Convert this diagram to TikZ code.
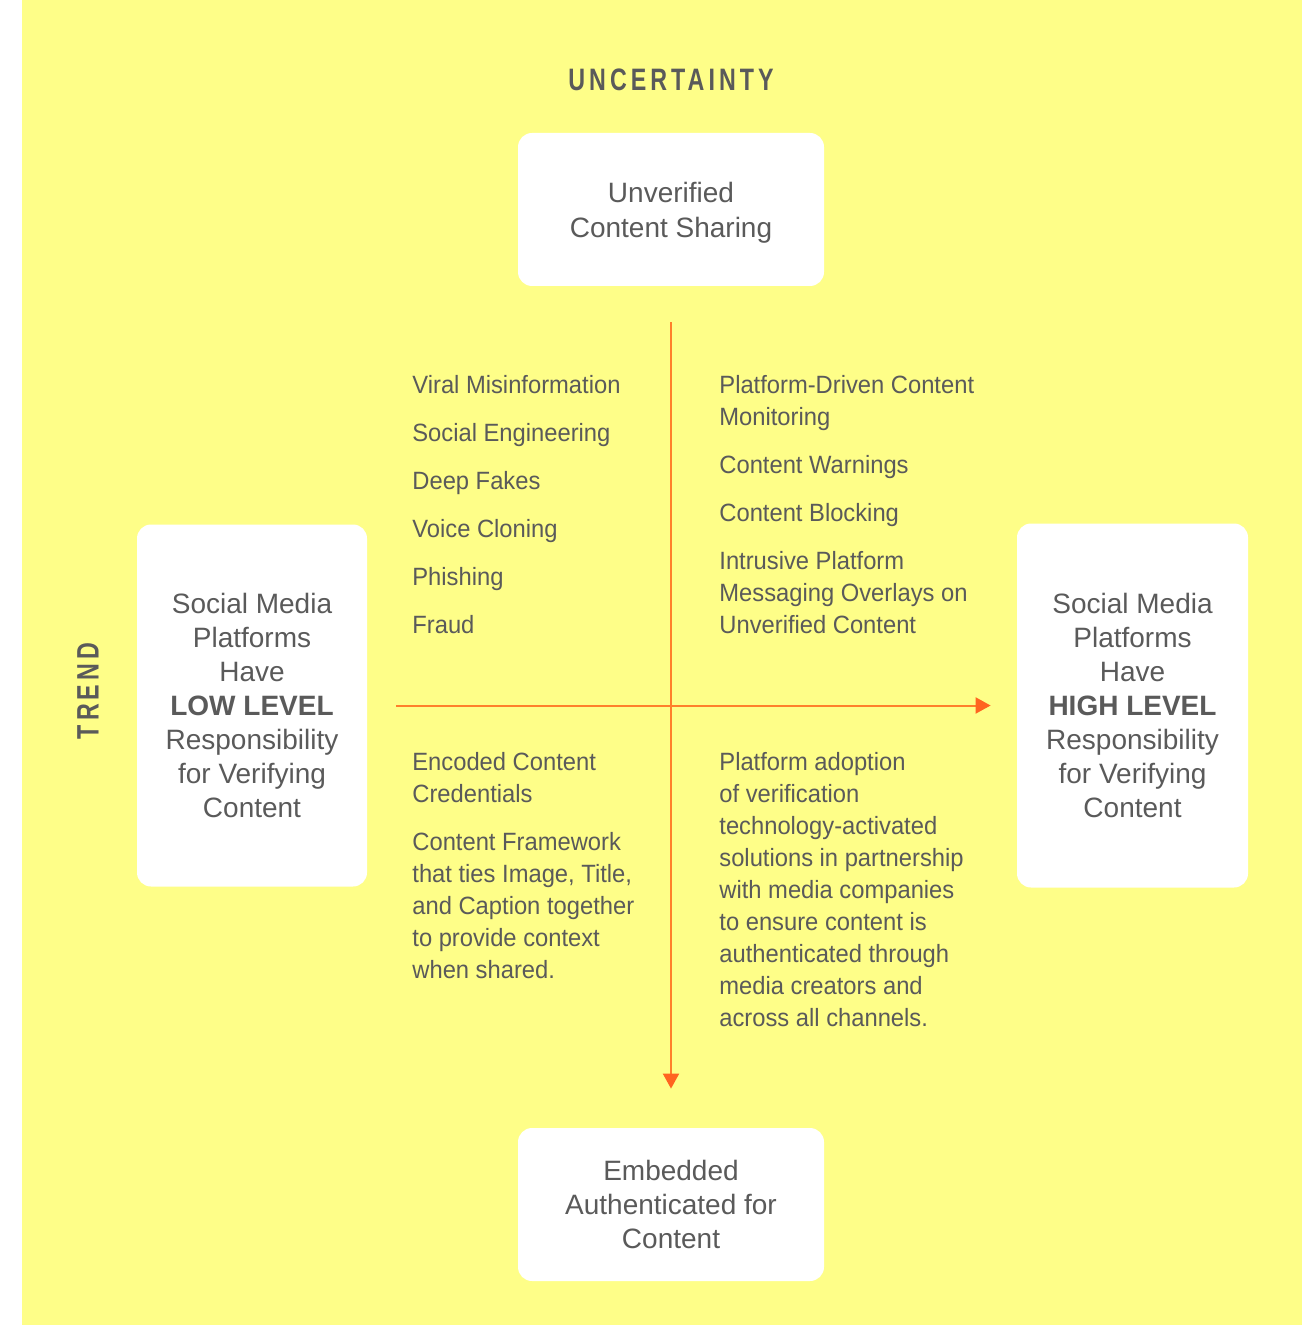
\documentclass[tikz,border=0pt]{standalone}
\usepackage{fontspec}
\setmainfont{Liberation Sans}
\newfontfamily\itemfam[FakeStretch=0.95]{Liberation Sans}
\newfontfamily\headfam[FakeStretch=0.75,LetterSpace=13]{Liberation Sans}
\usetikzlibrary{arrows.meta}
\usetikzlibrary{positioning}

\definecolor{bgyellow}{RGB}{254,254,136}
\definecolor{txtgray}{RGB}{90,90,90}
\definecolor{axisorange}{RGB}{255,127,42}
\definecolor{tiporange}{RGB}{255,100,32}

\begin{document}
\begin{tikzpicture}[x=0.5pt,y=-0.5pt,
    card/.style={fill=white, rounded corners=7pt, align=center, inner sep=0pt,
      text=txtgray, font=\fontsize{14}{17}\selectfont},
    items/.style={anchor=north west, inner sep=0pt, align=left,
      text=txtgray, font=\itemfam\fontsize{12.5}{16}\selectfont},
    heading/.style={text=txtgray, font=\headfam\bfseries\fontsize{15.5}{17}\selectfont},
    axis/.style={draw=axisorange, line width=1pt,
      -{Triangle[length=7.5pt,width=8pt,color=tiporange]}}]

        \useasboundingbox (0,0) rectangle (1302,1325);
        \fill[bgyellow] (22,0) rectangle (1302,1325);

        \node[heading] (unc) at (671,80) {UNCERTAINTY};
        \node[heading, rotate=90] (trend) at (88,691) {TREND};

        \node[card, minimum width=153pt, minimum height=76.5pt,
          font=\fontsize{14}{17.5}\selectfont] (top) at (671,209.5)
          {\rule{0pt}{13.2pt}Unverified\\Content Sharing};
        \node[card, minimum width=153pt, minimum height=76.5pt] (bottom) at (671,1204.5)
          {Embedded\\Authenticated for\\Content};
        \node[card, minimum width=115pt, minimum height=181pt] (low) at (252,705.5)
          {Social Media\\Platforms\\Have\\\textbf{LOW LEVEL}\\Responsibility\\for Verifying\\Content};
        \node[card, minimum width=115.5pt, minimum height=182pt] (high) at (1132.5,705.5)
          {Social Media\\Platforms\\Have\\\textbf{HIGH LEVEL}\\Responsibility\\for Verifying\\Content};

        \node[items] (threats) at (412,375)
          {Viral Misinformation\\[8pt]Social Engineering\\[8pt]Deep Fakes\\[8pt]Voice Cloning\\[8pt]Phishing\\[8pt]Fraud};
        \node[items] (policing) at (719,375)
          {Platform-Driven Content\\Monitoring\\[8pt]Content Warnings\\[8pt]Content Blocking\\[8pt]Intrusive Platform\\Messaging Overlays on\\Unverified Content};
        \node[items] (credentials) at (412,752)
          {Encoded Content\\Credentials\\[8pt]Content Framework\\that ties Image, Title,\\and Caption together\\to provide context\\when shared.};
        \node[items] (adoption) at (719,752)
          {Platform adoption\\of verification\\technology-activated\\solutions in partnership\\with media companies\\to ensure content is\\authenticated through\\media creators and\\across all channels.};

        \draw[axis, shorten <=18pt, shorten >=19.5pt] (top) -- (bottom);
        \draw[axis, shorten <=14.5pt, shorten >=13pt] (low) -- (high);
\end{tikzpicture}
\end{document}
